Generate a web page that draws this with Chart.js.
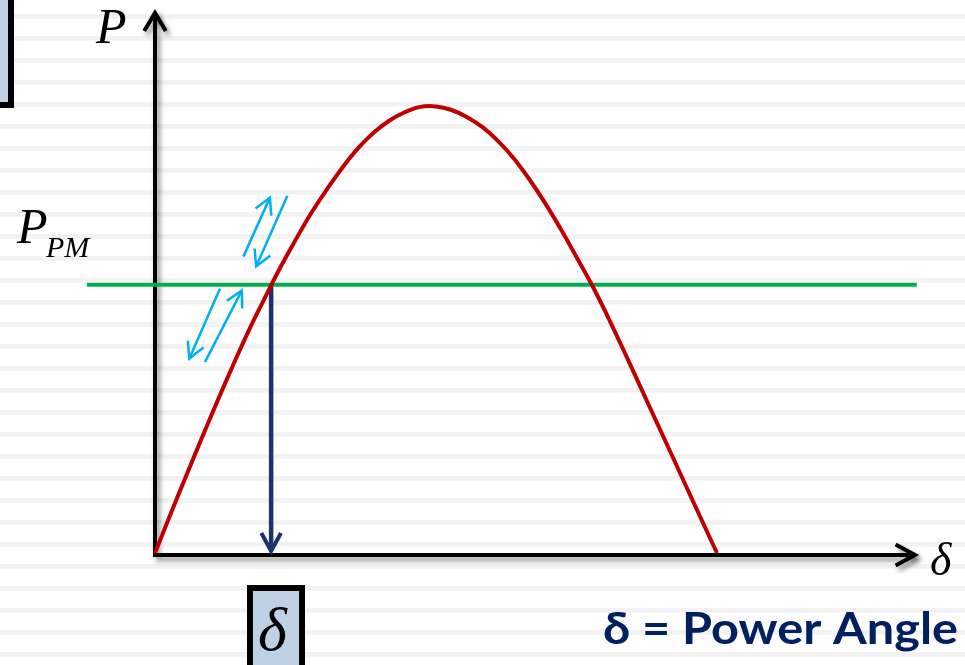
<!DOCTYPE html>
<html>
<head>
<meta charset="utf-8">
<script src="https://cdn.jsdelivr.net/npm/chart.js@4/dist/chart.umd.min.js"></script>
<style>
  html, body { margin: 0; padding: 0; background: #fff; }
  canvas { display: block; }
</style>
</head>
<body>
<canvas id="powerAngle" width="965" height="665"></canvas>
<script>
// ===== DATA =====
// power angle curve, delta in degrees, P per unit of the peak
const delta = [0, 5, 10, 15, 20, 25, 30, 35, 40, 45, 50, 55, 60, 65, 70, 75, 80, 85, 90,
  95, 100, 105, 110, 115, 120, 125, 130, 135, 140, 145, 150, 155, 160, 165, 170, 175, 180];
const power = [0, 0.087, 0.173, 0.257, 0.34, 0.42, 0.497, 0.568, 0.637, 0.70, 0.76, 0.813, 0.862, 0.905, 0.94, 0.967, 0.986, 0.998, 0.999,
  0.991, 0.975, 0.952, 0.921, 0.882, 0.835, 0.782, 0.724, 0.662, 0.599, 0.529, 0.455, 0.379, 0.303, 0.227, 0.151, 0.075, 0];

const pm = 0.6;          // mechanical power level
const deltaOp = 37.2;    // operating angle where P = Pm
const pmLine = [-21.8, 244];

// little cyan double arrows next to the operating point: [tail, head]
const nudges = [
  [[28.3, 0.663], [36.8, 0.795]],
  [[42.4, 0.799], [32.4, 0.641]],
  [[20.8, 0.591], [11.0, 0.435]],
  [[16.0, 0.427], [27.8, 0.587]]
];

const yAxisTop = 1.208;
const xAxisEnd = 243.4;

const RED = "#c00000", GREEN = "#00b050", NAVY = "#1c3370", CYAN = "#00b0f0", TXT = "#002060";

// ===== HELPERS =====
function chevron(ctx, tx, ty, fx, fy, len, spread) {
  const a = Math.atan2(fy - ty, fx - tx);
  ctx.beginPath();
  ctx.moveTo(tx + len * Math.cos(a - spread), ty + len * Math.sin(a - spread));
  ctx.lineTo(tx, ty);
  ctx.lineTo(tx + len * Math.cos(a + spread), ty + len * Math.sin(a + spread));
  ctx.stroke();
}

function boxRect(ctx, x, y, w, h) {
  ctx.fillStyle = "#bed1e5";
  ctx.fillRect(x, y, w, h);
  ctx.strokeStyle = "#000";
  ctx.lineWidth = 6;
  ctx.strokeRect(x, y, w, h);
}

// ===== BACKGROUND + AXES + LABELS =====
const decor = {
  id: "decor",
  beforeDraw(chart) {
    const { ctx, width, height } = chart;
    ctx.save();
    ctx.fillStyle = "#fff";
    ctx.fillRect(0, 0, width, height);
    ctx.fillStyle = "#f2f2f2";
    for (let y = 14; y < height; y += 22) ctx.fillRect(0, y, width, 4.5);
    boxRect(ctx, -20, -20, 31, 125);
    boxRect(ctx, 250, 588, 52, 100);
    ctx.restore();
  },
  beforeDatasetsDraw(chart) {
    const { ctx, scales: { x, y } } = chart;
    const x0 = x.getPixelForValue(0), y0 = y.getPixelForValue(0) + 2;
    ctx.save();
    ctx.strokeStyle = "#000";
    ctx.lineWidth = 4;
    ctx.lineJoin = "miter";
    ctx.shadowColor = "rgba(0,0,0,0.45)";
    ctx.shadowBlur = 5;
    ctx.shadowOffsetX = 3;
    ctx.shadowOffsetY = 4;
    const top = y.getPixelForValue(yAxisTop), right = x.getPixelForValue(xAxisEnd);
    ctx.beginPath();
    ctx.moveTo(x0, top);
    ctx.lineTo(x0, y0);
    ctx.lineTo(right, y0);
    ctx.stroke();
    chevron(ctx, x0, top, x0, top + 10, 21, 0.54);
    chevron(ctx, right, y0, right - 10, y0, 22, 0.5);
    ctx.restore();
  },
  afterDatasetsDraw(chart) {
    const { ctx, scales: { x, y } } = chart;
    ctx.save();
    ctx.lineJoin = "miter";
    // operating point arrow head
    ctx.strokeStyle = NAVY;
    ctx.lineWidth = 4;
    const bx = x.getPixelForValue(deltaOp), by = y.getPixelForValue(0) - 2;
    chevron(ctx, bx, by, bx, by - 10, 20.5, 0.5);
    // cyan nudges
    ctx.strokeStyle = CYAN;
    ctx.lineWidth = 2.5;
    nudges.forEach(([t, h]) => {
      const tx = x.getPixelForValue(t[0]), ty = y.getPixelForValue(t[1]);
      const hx = x.getPixelForValue(h[0]), hy = y.getPixelForValue(h[1]);
      ctx.beginPath();
      ctx.moveTo(tx, ty);
      ctx.lineTo(hx, hy);
      ctx.stroke();
      chevron(ctx, hx, hy, tx, ty, 18, 0.5);
    });
    ctx.restore();
  },
  afterDraw(chart) {
    const { ctx } = chart;
    ctx.save();
    ctx.fillStyle = "#000";
    ctx.textBaseline = "alphabetic";
    ctx.textAlign = "left";
    ctx.font = 'italic 50px "Liberation Serif"';
    ctx.fillText("P", 96, 43);
    ctx.fillText("P", 17, 243);
    ctx.font = 'italic 30px "Liberation Serif"';
    ctx.fillText("PM", 46, 257);
    ctx.font = 'italic 46px "Liberation Serif"';
    ctx.fillText("δ", 930, 575);
    ctx.font = 'italic 62px "Liberation Serif"';
    ctx.fillText("δ", 258, 650);

    // caption, stretched to its width
    const cap = "δ = Power Angle";
    ctx.fillStyle = TXT;
    ctx.font = 'bold 44px "Lato"';
    const w = ctx.measureText(cap).width;
    ctx.translate(603, 644);
    ctx.scale(355 / w, 1);
    ctx.fillText(cap, 0, 0);
    ctx.restore();
  }
};

// ===== CHART =====
new Chart(document.getElementById("powerAngle"), {
  type: "scatter",
  data: {
    datasets: [
      {
        data: delta.map((d, i) => ({ x: d, y: power[i] })),
        showLine: true, borderColor: RED, borderWidth: 4, pointRadius: 0,
        tension: 0.4, order: 1
      },
      {
        data: pmLine.map(d => ({ x: d, y: pm })),
        showLine: true, borderColor: GREEN, borderWidth: 4, pointRadius: 0, order: 2
      },
      {
        data: [{ x: deltaOp, y: pm }, { x: deltaOp, y: 0.006 }],
        showLine: true, borderColor: NAVY, borderWidth: 4.5, pointRadius: 0, order: 3
      }
    ]
  },
  options: {
    responsive: false,
    animation: false,
    devicePixelRatio: 1,
    layout: { padding: 0 },
    plugins: { legend: { display: false }, tooltip: { enabled: false } },
    scales: {
      x: { type: "linear", display: false, min: -49.64, max: 259.43 },
      y: { type: "linear", display: false, min: -0.2506, max: 1.2371 }
    }
  },
  plugins: [decor]
});
</script>
</body>
</html>
